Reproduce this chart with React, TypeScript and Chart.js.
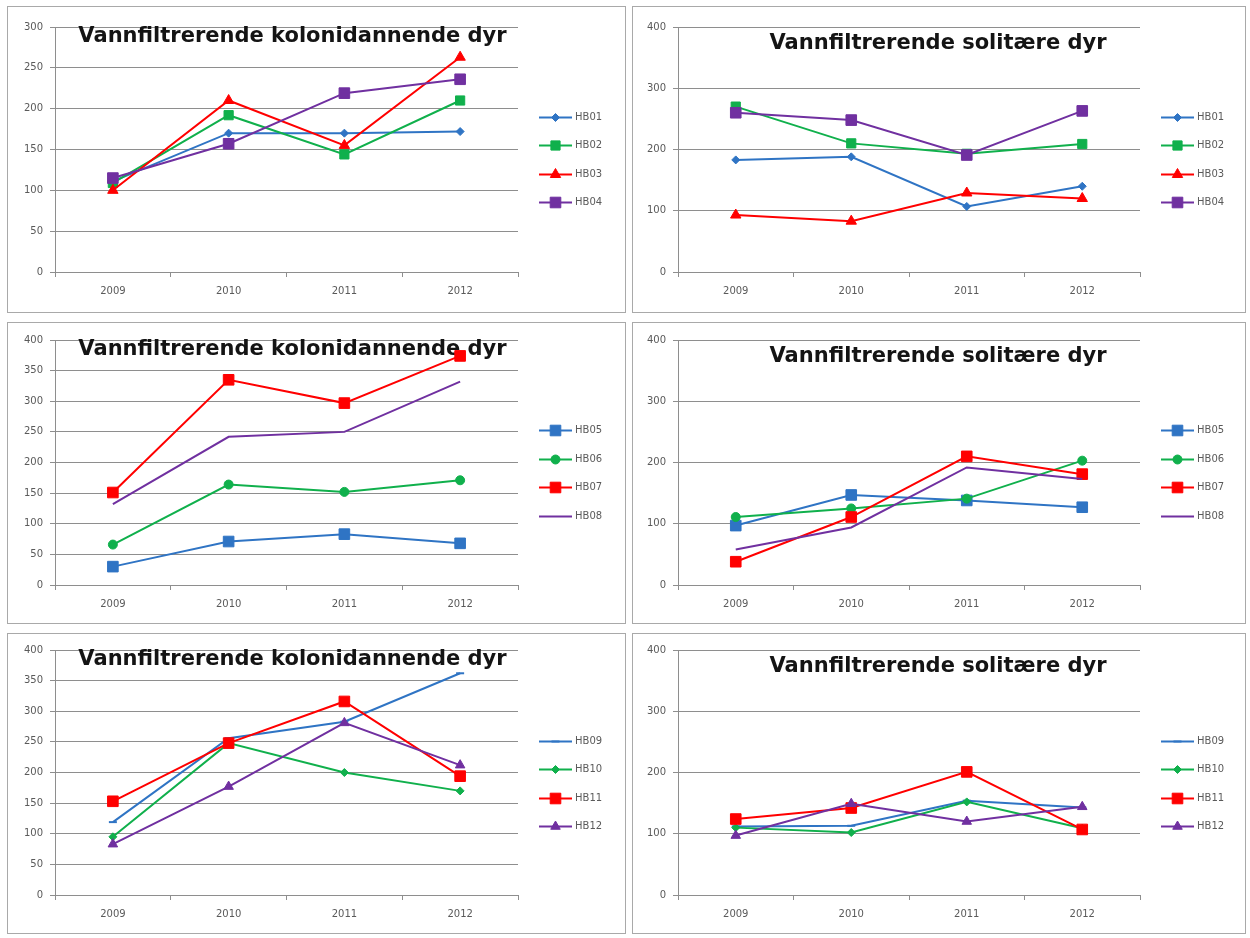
import React, { useEffect, useRef } from "react";
import { Chart, registerables } from "chart.js";
import { drawPoint } from "chart.js/helpers";

Chart.register(...registerables);

// ---------- data ----------
const years = ["2009", "2010", "2011", "2012"];
const titleKolonier = "Vannfiltrerende kolonidannende dyr";
const titleSolitaer = "Vannfiltrerende solitære dyr";

const labelsA = ["HB01", "HB02", "HB03", "HB04"];
const labelsB = ["HB05", "HB06", "HB07", "HB08"];
const labelsC = ["HB09", "HB10", "HB11", "HB12"];

// Panel 1: kolonidannende HB01-HB04
const hb01Kol = [111, 170, 170, 172];
const hb02Kol = [109, 192, 144, 210];
const hb03Kol = [100, 210, 155, 263];
const hb04Kol = [115, 157, 219, 236];

// Panel 2: solitære HB01-HB04
const hb01Sol = [183, 188, 107, 140];
const hb02Sol = [270, 210, 193, 209];
const hb03Sol = [93, 83, 129, 120];
const hb04Sol = [260, 248, 191, 263];

// Panel 3: kolonidannende HB05-HB08
const hb05Kol = [30, 71, 83, 68];
const hb06Kol = [66, 164, 152, 171];
const hb07Kol = [151, 335, 297, 374];
const hb08Kol = [132, 242, 250, 332];

// Panel 4: solitære HB05-HB08
const hb05Sol = [97, 147, 138, 127];
const hb06Sol = [111, 125, 141, 203];
const hb07Sol = [38, 111, 210, 181];
const hb08Sol = [58, 94, 192, 173];

// Panel 5: kolonidannende HB09-HB12
const hb09Kol = [119, 256, 283, 362];
const hb10Kol = [95, 248, 200, 170];
const hb11Kol = [153, 248, 316, 194];
const hb12Kol = [83, 177, 281, 212];

// Panel 6: solitære HB09-HB12
const hb09Sol = [112, 113, 154, 143];
const hb10Sol = [110, 102, 152, 109];
const hb11Sol = [124, 142, 201, 107];
const hb12Sol = [97, 149, 120, 144];

// y-axis ranges
const yMaxA = 300;
const yMaxB = 400;
const stepFine = 50;
const stepCoarse = 100;

// ---------- styles ----------
const BLUE = "#2F74C4";
const GREEN = "#10B04C";
const RED = "#FF0000";
const PURPLE = "#7030A0";
const GRID = "#8E8E8E";
const TICK_COLOR = "#5A5A5A";
const TICK_FONT = { family: "DejaVu Sans", size: 10 };

type Mk = { color: string; pointStyle: any; radius: number };

const marksA: Mk[] = [
  { color: BLUE, pointStyle: "rectRot", radius: 4 },
  { color: GREEN, pointStyle: "rect", radius: 6.5 },
  { color: RED, pointStyle: "triangle", radius: 6 },
  { color: PURPLE, pointStyle: "rect", radius: 7.5 },
];
const marksB: Mk[] = [
  { color: BLUE, pointStyle: "rect", radius: 7.5 },
  { color: GREEN, pointStyle: "circle", radius: 4.5 },
  { color: RED, pointStyle: "rect", radius: 7.5 },
  { color: PURPLE, pointStyle: false, radius: 0 },
];
const marksC: Mk[] = [
  { color: BLUE, pointStyle: "line", radius: 4 },
  { color: GREEN, pointStyle: "rectRot", radius: 4 },
  { color: RED, pointStyle: "rect", radius: 7.5 },
  { color: PURPLE, pointStyle: "triangle", radius: 5.5 },
];

type Spec = {
  left: number;
  top: number;
  w: number;
  h: number;
  plot: { l: number; t: number; r: number; b: number };
  title: string;
  titleDx: number;
  titleDy: number;
  yMax: number;
  yStep: number;
  labels: string[];
  values: number[][];
  marks: Mk[];
};

const COL_L = { left: 7, w: 619, l: 47, r: 510 };
const COL_R = { left: 632, w: 614, l: 45, r: 507 };
const ROW1 = { top: 6, h: 307, t: 20, b: 265 };
const ROW2 = { top: 322, h: 302, t: 17, b: 262 };
const ROW3 = { top: 633, h: 301, t: 16, b: 261 };

function mk(
  col: typeof COL_L,
  row: typeof ROW1,
  title: string,
  kol: boolean,
  yMax: number,
  yStep: number,
  labels: string[],
  values: number[][],
  marks: Mk[]
): Spec {
  return {
    left: col.left,
    top: row.top,
    w: col.w,
    h: row.h,
    plot: { l: col.l, t: row.t, r: col.r, b: row.b },
    title,
    titleDx: kol ? 6 : 29,
    titleDy: kol ? 15 : 22,
    yMax,
    yStep,
    labels,
    values,
    marks,
  };
}

const panels: Spec[] = [
  mk(COL_L, ROW1, titleKolonier, true, yMaxA, stepFine, labelsA, [hb01Kol, hb02Kol, hb03Kol, hb04Kol], marksA),
  mk(COL_R, ROW1, titleSolitaer, false, yMaxB, stepCoarse, labelsA, [hb01Sol, hb02Sol, hb03Sol, hb04Sol], marksA),
  mk(COL_L, ROW2, titleKolonier, true, yMaxB, stepFine, labelsB, [hb05Kol, hb06Kol, hb07Kol, hb08Kol], marksB),
  mk(COL_R, ROW2, titleSolitaer, false, yMaxB, stepCoarse, labelsB, [hb05Sol, hb06Sol, hb07Sol, hb08Sol], marksB),
  mk(COL_L, ROW3, titleKolonier, true, yMaxB, stepFine, labelsC, [hb09Kol, hb10Kol, hb11Kol, hb12Kol], marksC),
  mk(COL_R, ROW3, titleSolitaer, false, yMaxB, stepCoarse, labelsC, [hb09Sol, hb10Sol, hb11Sol, hb12Sol], marksC),
];

function overlayPlugin(spec: Spec) {
  return {
    id: "overlay",
    beforeDatasetsDraw(chart: any) {
      const { ctx, chartArea } = chart;
      ctx.save();
      ctx.font = 'bold 21px "DejaVu Sans"';
      ctx.fillStyle = "#141414";
      ctx.textAlign = "center";
      ctx.textBaseline = "alphabetic";
      const cx = (chartArea.left + chartArea.right) / 2 + spec.titleDx;
      ctx.fillText(spec.title, cx, chartArea.top + spec.titleDy);
      ctx.restore();
    },
    afterDatasetsDraw(chart: any) {
      const { ctx, chartArea, height } = chart;
      const n = spec.labels.length;
      const sp = 28.5;
      const cy = height / 2;
      const x0 = chartArea.right + 21;
      const x1 = chartArea.right + 54;
      ctx.save();
      for (let i = 0; i < n; i++) {
        const y = Math.round(cy + (i - (n - 1) / 2) * sp) + 0.5;
        const m = spec.marks[i];
        ctx.strokeStyle = m.color;
        ctx.fillStyle = m.color;
        ctx.lineWidth = 2;
        ctx.beginPath();
        ctx.moveTo(x0, y);
        ctx.lineTo(x1, y);
        ctx.stroke();
        if (m.radius > 0 && m.pointStyle) {
          ctx.lineWidth = m.pointStyle === "line" ? 2 : 1;
          drawPoint(ctx, { pointStyle: m.pointStyle, rotation: 0, radius: m.radius, borderWidth: 1 } as any, (x0 + x1) / 2, y);
        }
        ctx.fillStyle = TICK_COLOR;
        ctx.font = '10px "DejaVu Sans"';
        ctx.textAlign = "left";
        ctx.textBaseline = "middle";
        ctx.fillText(spec.labels[i], x1 + 3, y);
      }
      ctx.restore();
    },
  };
}

function Panel({ spec }: { spec: Spec }) {
  const ref = useRef<HTMLCanvasElement>(null);
  const W = spec.w - 2;
  const H = spec.h - 2;
  useEffect(() => {
    const canvas = ref.current!;
    const n = spec.labels.length;
    const chart = new Chart(canvas, {
      type: "line",
      data: {
        labels: years,
        datasets: spec.labels.map((label, i) => {
          const m = spec.marks[i];
          return {
            label,
            data: spec.values[i],
            borderColor: m.color,
            backgroundColor: m.color,
            borderWidth: 2,
            pointStyle: m.pointStyle,
            pointRadius: m.radius,
            pointHoverRadius: m.radius,
            pointBorderWidth: m.pointStyle === "line" ? 2 : 1,
            pointBackgroundColor: m.color,
            pointBorderColor: m.color,
            tension: 0,
            fill: false,
            order: n - i,
          } as any;
        }),
      },
      options: {
        responsive: false,
        animation: false,
        devicePixelRatio: 1,
        events: [],
        layout: { padding: { left: 0, top: spec.plot.t, right: W - spec.plot.r, bottom: 0 } },
        plugins: { legend: { display: false }, tooltip: { enabled: false }, title: { display: false } },
        scales: {
          x: {
            type: "category",
            offset: true,
            grid: { offset: true, drawOnChartArea: false, drawTicks: true, tickLength: 5, color: GRID },
            border: { display: true, color: GRID },
            ticks: { font: TICK_FONT, color: TICK_COLOR, padding: 8, maxRotation: 0, autoSkip: false },
            afterFit: (s: any) => {
              s.height = H - spec.plot.b;
            },
          },
          y: {
            min: 0,
            max: spec.yMax,
            ticks: { stepSize: spec.yStep, font: TICK_FONT, color: TICK_COLOR, padding: 7 },
            grid: { color: GRID, drawTicks: true, tickLength: 5 },
            border: { display: true, color: GRID },
            afterFit: (s: any) => {
              s.width = spec.plot.l;
            },
          },
        },
      } as any,
      plugins: [overlayPlugin(spec)],
    });
    return () => chart.destroy();
  }, []);
  return (
    <div
      style={{
        position: "absolute",
        left: spec.left,
        top: spec.top,
        width: W,
        height: H,
        border: "1px solid #A9A9A9",
        background: "#fff",
      }}
    >
      <canvas ref={ref} width={W} height={H} style={{ display: "block", width: W, height: H }} />
    </div>
  );
}

export default function App() {
  return (
    <div style={{ position: "absolute", left: 0, top: 0, width: 1250, height: 938, background: "#fff" }}>
      {panels.map((p, i) => (
        <Panel key={i} spec={p} />
      ))}
    </div>
  );
}
